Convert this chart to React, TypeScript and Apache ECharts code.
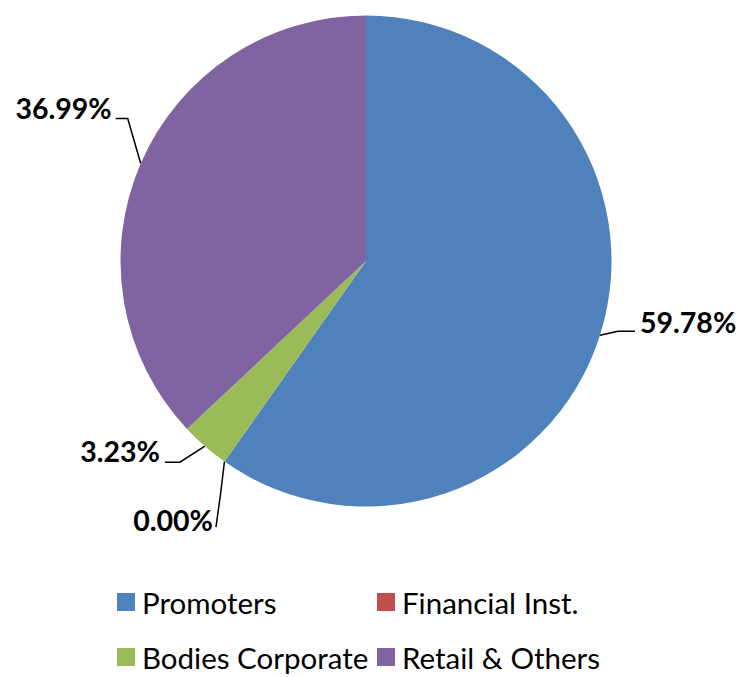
import React, { useEffect, useRef } from "react";
import * as echarts from "echarts";

const categories = ["Promoters", "Financial Inst.", "Bodies Corporate", "Retail & Others"];
const values = [59.78, 0.0, 3.23, 36.99];
const colors = ["#4F81BD", "#C0504D", "#9BBB59", "#8064A2"];

const FONT = "Lato, 'Open Sans', sans-serif";

// label placement relative to the slice's edge point: [elbow dx, elbow dy, end dx, end dy, text dx, text dy, align]
const labelGeom: [number, number, number, number, number, number, string][] = [
  [18, -4, 35, -4, 40, -13, "left"],
  [-4, 33, -8.5, 65.5, -11.5, 58.5, "right"],
  [-25, 16, -40, 16, -45, 5, "right"],
  [-13, -45, -25, -45, -29, -55, "right"],
];

export default function App() {
  const ref = useRef<HTMLDivElement>(null);
  useEffect(() => {
    if (!ref.current) return;
    const chart = echarts.init(ref.current, undefined, { renderer: "svg" });
    const legendPos = [
      { left: 109, top: 579 },
      { left: 369, top: 579 },
      { left: 109, top: 634 },
      { left: 369, top: 634 },
    ];
    chart.setOption({
      animation: false,
      color: colors,
      legend: categories.map((c, i) => ({
        data: [c],
        left: legendPos[i].left,
        top: legendPos[i].top,
        padding: 0,
        itemWidth: 18,
        itemHeight: 18,
        itemGap: 8,
        icon: "rect",
        textStyle: { fontFamily: FONT, fontSize: 29.5, lineHeight: 28, color: "#000", padding: [0, 0, 0, 2] },
      })),
      series: [
        {
          type: "pie",
          center: [358, 253],
          radius: 245.5,
          startAngle: 90,
          clockwise: true,
          minAngle: 0,
          avoidLabelOverlap: false,
          stillShowZeroSum: true,
          data: categories.map((c, i) => ({ name: c, value: values[i] })),
          itemStyle: { borderWidth: 0 },
          label: {
            show: true,
            formatter: (p: any) => p.value.toFixed(2) + "%",
            fontFamily: FONT,
            fontWeight: "bold",
            fontSize: 28.5,
            color: "#000",
          },
          labelLine: {
            show: true,
            length: 20,
            length2: 14,
            lineStyle: { color: "#000", width: 1.5 },
          },
          labelLayout: (params: any) => {
            const pts = params.labelLinePoints;
            const g = labelGeom[params.dataIndex];
            if (!pts || !g) return {};
            const [ex, ey] = pts[0];
            return {
              x: ex + g[4],
              y: ey + g[5],
              align: g[6],
              verticalAlign: "middle",
              labelLinePoints: [
                [ex, ey],
                [ex + g[0], ey + g[1]],
                [ex + g[2], ey + g[3]],
              ],
            };
          },
          emphasis: { disabled: true },
        },
      ],
    });
    return () => chart.dispose();
  }, []);
  return <div ref={ref} style={{ width: 734, height: 669 }} />;
}
